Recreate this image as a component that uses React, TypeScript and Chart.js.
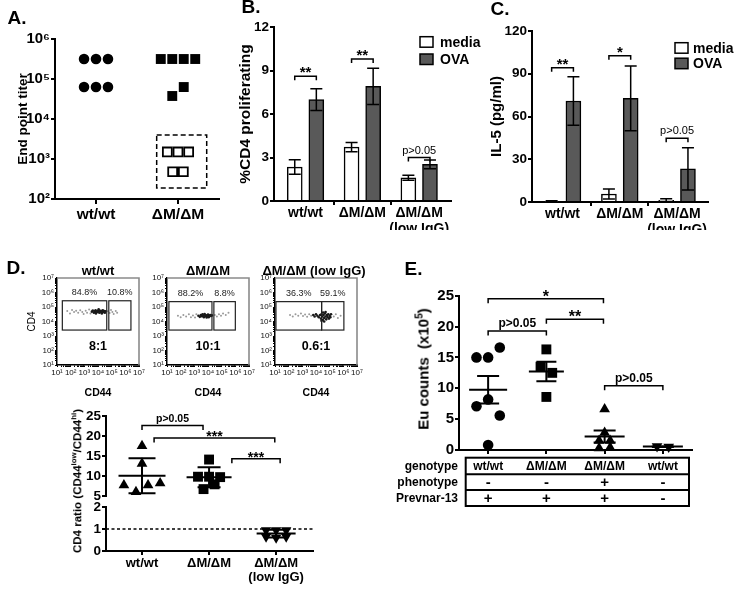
import React, { useEffect, useRef } from 'react';
import { Chart, registerables } from 'chart.js';

Chart.register(...registerables);

const FONT = '"Liberation Sans", Arial, Helvetica, sans-serif';
Chart.defaults.font.family = FONT;
Chart.defaults.color = '#000';

/* ===== A. End point titer ===== */
const titerGroups = ['wt/wt', 'ΔM/ΔM'];
const titerWt = [316000, 316000, 316000, 63000, 63000, 63000];
const titerMutHigh = [316000, 316000, 316000, 316000, 37600, 63000];
const titerMutLow = [1500, 1500, 1500, 480, 480];
const titerTicks = [1e2, 1e3, 1e4, 1e5, 1e6];
const titerLowBox = { x: [0.74, 1.35], y: [188, 3980] };

/* ===== B. %CD4 proliferating ===== */
const barGroups = [['wt/wt'], ['ΔM/ΔM'], ['ΔM/ΔM', '(low IgG)']];
const treatments = ['media', 'OVA'];
const prolifMedia = [2.34, 3.72, 1.6];
const prolifMediaErr = [0.5, 0.32, 0.17];
const prolifOva = [7.0, 7.9, 2.53];
const prolifOvaErr = [0.75, 1.25, 0.3];
const prolifTicks = [0, 3, 6, 9, 12];
const prolifSig = [
  { group: 0, y: 8.6, label: '**' },
  { group: 1, y: 9.8, label: '**' },
  { group: 2, y: 3.0, label: 'p>0.05' },
];

/* ===== C. IL-5 ===== */
const il5Media = [0.5, 5.6, 1.2];
const il5MediaErr = [0.3, 3.5, 1.0];
const il5Ova = [70.9, 72.7, 23.3];
const il5OvaErr = [17.0, 22.7, 14.8];
const il5Ticks = [0, 30, 60, 90, 120];
const il5Sig = [
  { group: 0, y: 94.2, label: '**' },
  { group: 1, y: 102.6, label: '*' },
  { group: 2, y: 44.8, label: 'p>0.05' },
];

/* ===== D. flow plots (events as [log10 CD44, log10 CD4]) ===== */
const flowTitles = ['wt/wt', 'ΔM/ΔM', 'ΔM/ΔM (low IgG)'];
const flowPct = [['84.8%', '10.8%'], ['88.2%', '8.8%'], ['36.3%', '59.1%']];
const flowRatio = ['8:1', '10:1', '0.6:1'];
const flowGates = [
  { low: [1.39, 4.64], high: [4.79, 6.41], cd4: [3.41, 5.43] },
  { low: [1.14, 4.29], high: [4.43, 6.0], cd4: [3.41, 5.37] },
  { low: [1.07, 4.41], high: [4.41, 6.04], cd4: [3.41, 5.37] },
];
const flowWtSparse = [[1.75, 4.72], [1.95, 4.55], [2.1, 4.8], [2.25, 4.65], [2.4, 4.75], [2.55, 4.6], [2.7, 4.78], [2.85, 4.66], [2.95, 4.52], [3.1, 4.74], [3.2, 4.6], [3.35, 4.82], [3.45, 4.55], [4.7, 4.7], [4.85, 4.58], [4.95, 4.8], [5.05, 4.65], [5.15, 4.52], [5.3, 4.72], [5.4, 4.6]];
const flowWtDense = [[3.55, 4.68], [3.62, 4.75], [3.7, 4.6], [3.76, 4.7], [3.82, 4.78], [3.88, 4.64], [3.94, 4.72], [4.0, 4.66], [4.05, 4.76], [4.1, 4.6], [4.15, 4.7], [4.2, 4.74], [4.25, 4.64], [4.3, 4.7], [4.35, 4.78], [4.4, 4.66], [4.45, 4.72], [4.5, 4.6], [4.55, 4.7], [3.85, 4.56], [4.05, 4.84], [4.28, 4.56]];
const flowMutSparse = [[1.8, 4.4], [2.0, 4.3], [2.2, 4.45], [2.4, 4.35], [2.6, 4.5], [2.75, 4.3], [2.9, 4.42], [3.05, 4.28], [3.15, 4.5], [4.5, 4.45], [4.65, 4.35], [4.8, 4.5], [4.95, 4.4], [5.1, 4.55], [5.3, 4.45], [5.5, 4.6]];
const flowMutDense = [[3.3, 4.4], [3.4, 4.32], [3.48, 4.45], [3.55, 4.36], [3.62, 4.42], [3.7, 4.3], [3.76, 4.46], [3.82, 4.38], [3.88, 4.42], [3.94, 4.34], [4.0, 4.48], [4.05, 4.4], [4.1, 4.36], [4.16, 4.44], [4.22, 4.38], [4.28, 4.42], [3.6, 4.5], [3.9, 4.28], [4.05, 4.3], [3.75, 4.52]];
const flowLowSparse = [[2.1, 4.45], [2.3, 4.35], [2.5, 4.5], [2.7, 4.4], [2.9, 4.55], [3.05, 4.38], [3.2, 4.48], [3.35, 4.32], [3.5, 4.5], [3.65, 4.4], [5.3, 4.35], [5.45, 4.5], [5.6, 4.25], [5.8, 4.4]];
const flowLowDense = [[3.8, 4.45], [3.9, 4.35], [4.0, 4.5], [4.1, 4.4], [4.2, 4.3], [4.3, 4.45], [4.36, 4.2], [4.4, 4.5], [4.45, 4.35], [4.5, 4.1], [4.55, 4.45], [4.6, 4.25], [4.65, 4.55], [4.7, 4.35], [4.75, 4.15], [4.8, 4.45], [4.85, 4.3], [4.9, 4.5], [4.95, 4.2], [5.0, 4.4], [5.05, 4.3], [5.1, 4.5], [4.4, 4.05], [4.6, 4.0], [4.52, 4.62], [4.7, 4.65]];

/* ===== D. CD4 ratio ===== */
const ratioGroups = [['wt/wt'], ['ΔM/ΔM'], ['ΔM/ΔM', '(low IgG)']];
const ratioWt = [17.5, 13.1, 7.7, 6.0, 7.7, 8.2];
const ratioMut = [14.1, 9.8, 9.8, 9.7, 6.7, 7.9];
const ratioMutLow = [0.95, 0.95, 0.95, 0.65, 0.6, 0.65];
const ratioUpperTicks = [5, 10, 15, 20, 25];
const ratioLowerTicks = [0, 1, 2];
const ratioRef = 1;
const ratioSig = [
  { x1: 0, x2: 0.91, y: 22.6, label: 'p>0.05' },
  { x1: 0.18, x2: 1.98, y: 19.5, label: '***' },
  { x1: 1.34, x2: 2.06, y: 14.3, label: '***' },
];

/* ===== E. Eu counts ===== */
const euGenotype = ['wt/wt', 'ΔM/ΔM', 'ΔM/ΔM', 'wt/wt'];
const euPhenotype = ['-', '-', '+', '-'];
const euPrevnar = ['+', '+', '+', '-'];
const euWt = [15.0, 15.0, 16.6, 7.1, 8.2, 5.6, 0.8];
const euMut = [16.3, 13.5, 12.5, 8.6];
const euMutPheno = [6.6, 2.8, 1.5, 1.5, 0.3, 0.4];
const euWtNoVax = [0.6, 0.5];
const euTicks = [0, 5, 10, 15, 20, 25];
const euSig = [
  { x1: 0, x2: 1.98, y: 24.5, label: '*' },
  { x1: 1, x2: 1.98, y: 21.2, label: '**' },
  { x1: 0, x2: 1, y: 19.3, label: 'p>0.05' },
  { x1: 2, x2: 3, y: 10.4, label: 'p>0.05' },
];

/* ===== helpers ===== */
const SUP = '⁰¹²³⁴⁵⁶⁷⁸⁹';
const pow10 = (v: number) => '10' + String(Math.round(Math.log10(v))).split('').map((d) => SUP[+d]).join('');
const font = (size: number, bold = true, lineHeight = 1.2) => ({ family: FONT, size, weight: bold ? 'bold' : 'normal', lineHeight });
const fixW = (w: number) => (s: any) => { s.width = w; };
const fixH = (h: number) => (s: any) => { s.height = h; };
const setTicks = (vals: number[]) => (s: any) => { s.ticks = vals.map((value) => ({ value })); };
const isDecade = (v: number) => Math.abs(Math.log10(v) - Math.round(Math.log10(v))) < 1e-9;
const OVA_FILL = '#595959';
const BAR_SHIFT = 0.19;

// rows of nearby values are spread symmetrically around the category centre
function swarm(values: number[], center: number, step: number, tol: number, log = false) {
  const t = (v: number) => (log ? Math.log10(v) : v);
  const pts: { x: number; y: number }[] = [];
  let i = 0;
  while (i < values.length) {
    let j = i + 1;
    while (j < values.length && Math.abs(t(values[j]) - t(values[i])) <= tol + 1e-9) j++;
    const n = j - i;
    for (let k = 0; k < n; k++) pts.push({ x: center + (k - (n - 1) / 2) * step, y: values[i + k] });
    i = j;
  }
  return pts;
}

function stats(values: number[], kind: string) {
  const n = values.length;
  const mean = values.reduce((a, b) => a + b, 0) / n;
  const sd = Math.sqrt(values.reduce((a, b) => a + (b - mean) ** 2, 0) / (n - 1));
  return { mean, err: kind === 'sem' ? sd / Math.sqrt(n) : sd };
}

function deco(o: any) {
  return {
    id: 'deco',
    afterDraw(chart: any) {
      const { ctx, chartArea: ca } = chart;
      const xs = chart.scales.x;
      const ys = chart.scales.y;
      const X = (v: number) => xs.getPixelForValue(v);
      const Y = (v: number) => ys.getPixelForValue(v);
      ctx.save();
      ctx.strokeStyle = '#000';
      ctx.fillStyle = '#000';
      ctx.lineCap = 'butt';
      if (o.frame) {
        ctx.strokeStyle = o.frame;
        ctx.lineWidth = 1.6;
        ctx.beginPath();
        ctx.moveTo(ca.left, ca.top);
        ctx.lineTo(ca.right, ca.top);
        ctx.lineTo(ca.right, ca.bottom);
        ctx.stroke();
        ctx.strokeStyle = '#000';
      }
      if (o.refLine !== undefined) {
        ctx.save();
        ctx.setLineDash([3, 2.5]);
        ctx.lineWidth = 1.5;
        const y = Y(o.refLine);
        ctx.beginPath();
        ctx.moveTo(ca.left, y);
        ctx.lineTo(ca.right, y);
        ctx.stroke();
        ctx.restore();
      }
      if (o.box) {
        ctx.save();
        ctx.setLineDash([5, 3]);
        ctx.lineWidth = 1.5;
        const x0 = X(o.box.x[0]), x1 = X(o.box.x[1]);
        const y0 = Y(o.box.y[1]), y1 = Y(o.box.y[0]);
        ctx.strokeRect(x0, y0, x1 - x0, y1 - y0);
        ctx.restore();
      }
      if (o.errors) {
        o.errors.forEach((errs: number[] | null, di: number) => {
          if (!errs) return;
          chart.data.datasets[di].data.forEach((p: any, j: number) => {
            const x = X(p.x);
            const yt = Y(p.y + errs[j]);
            const yb = Y(Math.max(p.y - errs[j], 0));
            ctx.lineWidth = 1.5;
            ctx.beginPath();
            ctx.moveTo(x, yt); ctx.lineTo(x, yb);
            ctx.moveTo(x - 6, yt); ctx.lineTo(x + 6, yt);
            ctx.moveTo(x - 6, yb); ctx.lineTo(x + 6, yb);
            ctx.stroke();
          });
        });
      }
      if (o.summaries) {
        o.summaries.forEach((s: any) => {
          const { mean, err } = stats(s.values, s.kind);
          const cx = X(s.center);
          const ym = Y(mean), yt = Y(mean + err), yb = Y(mean - err);
          ctx.lineWidth = 2;
          ctx.beginPath();
          ctx.moveTo(cx - s.half, ym); ctx.lineTo(cx + s.half, ym);
          ctx.moveTo(cx, yt); ctx.lineTo(cx, yb);
          ctx.moveTo(cx - s.cap, yt); ctx.lineTo(cx + s.cap, yt);
          ctx.moveTo(cx - s.cap, yb); ctx.lineTo(cx + s.cap, yb);
          ctx.stroke();
        });
      }
      if (o.brackets) {
        const st = o.bracketStyle;
        o.brackets.forEach((b: any) => {
          const x1 = X(b.x1), x2 = X(b.x2), y = Y(b.y);
          ctx.lineWidth = st.lw;
          ctx.beginPath();
          ctx.moveTo(x1, y + st.drop); ctx.lineTo(x1, y); ctx.lineTo(x2, y); ctx.lineTo(x2, y + st.drop);
          ctx.stroke();
          const star = b.label.startsWith('*');
          ctx.font = star ? st.starFont : st.pFont;
          ctx.textAlign = 'center';
          ctx.textBaseline = 'alphabetic';
          ctx.fillText(b.label, (x1 + x2) / 2, y + (star ? st.starDy : st.pDy));
        });
      }
      if (o.legend) {
        const L = o.legend;
        chart.data.datasets.forEach((ds: any, i: number) => {
          const bx = ca.right + L.dx, by = ca.top + L.dy + i * L.gap;
          ctx.fillStyle = ds.backgroundColor;
          ctx.fillRect(bx, by, 13, 10.5);
          ctx.lineWidth = 1.5;
          ctx.strokeStyle = '#000';
          ctx.strokeRect(bx, by, 13, 10.5);
          ctx.fillStyle = '#000';
          ctx.font = 'bold 14px ' + FONT;
          ctx.textAlign = 'left';
          ctx.textBaseline = 'middle';
          ctx.fillText(ds.label, bx + L.textDx, by + 6);
        });
      }
      if (o.gates) {
        const g = o.gates;
        const yT = Y(10 ** g.cd4[1]), yB = Y(10 ** g.cd4[0]);
        ctx.strokeStyle = '#222';
        ctx.lineWidth = 1.2;
        [g.low, g.high].forEach((r: number[], i: number) => {
          const xL = X(10 ** r[0]), xR = X(10 ** r[1]);
          ctx.strokeRect(xL, yT, xR - xL, yB - yT);
          ctx.font = '9px ' + FONT;
          ctx.fillStyle = '#222';
          ctx.textAlign = 'center';
          ctx.textBaseline = 'middle';
          ctx.fillText(g.pct[i], (xL + xR) / 2, yT - 8);
        });
        ctx.fillStyle = '#000';
        ctx.font = 'bold 12.5px ' + FONT;
        ctx.fillText(g.ratio, (ca.left + ca.right) / 2, yB + 16);
      }
      if (o.table) {
        const T = o.table;
        const left = ca.left + 6.7, right = ca.right - 3;
        let y = ca.bottom + 7.7;
        const total = T.rowH.reduce((a: number, b: number) => a + b, 0);
        ctx.lineWidth = 2;
        ctx.strokeStyle = '#000';
        ctx.strokeRect(left, y, right - left, total);
        T.rows.forEach((r: any, i: number) => {
          if (i > 0) {
            ctx.beginPath(); ctx.moveTo(left, y); ctx.lineTo(right, y); ctx.stroke();
          }
          const yc = y + T.rowH[i] / 2 + 0.5;
          ctx.textBaseline = 'middle';
          ctx.font = 'bold 12px ' + FONT;
          ctx.textAlign = 'right';
          ctx.fillText(r.label, ca.left - 1, yc);
          ctx.textAlign = 'center';
          r.cells.forEach((c: string, j: number) => {
            ctx.font = (c.length === 1 ? 'bold 15px ' : 'bold 12px ') + FONT;
            ctx.fillText(c, X(j), yc);
          });
          y += T.rowH[i];
        });
      }
      ctx.restore();
    },
  };
}

const baseOpts = (pad: any) => ({
  responsive: false,
  animation: false,
  events: [],
  layout: { padding: pad },
  plugins: { legend: { display: false }, tooltip: { enabled: false } },
});

const axisLine = { color: '#000', width: 2 };
const tickGrid = (len: number, color: any = '#000') => ({ drawOnChartArea: false, color, lineWidth: 2, tickLength: len, offset: false });

/* ===== chart factories ===== */
function configA() {
  return {
    type: 'scatter',
    data: {
      datasets: [
        { data: swarm(titerWt, 0, 0.146, 0.3, true), pointStyle: 'circle', pointRadius: 5.3, backgroundColor: '#000', borderWidth: 0, clip: false },
        { data: swarm(titerMutHigh, 1, 0.14, 0.3, true), pointStyle: 'rect', pointRadius: 7, backgroundColor: '#000', borderWidth: 0, clip: false },
        { data: swarm(titerMutLow, 1, 0.13, 0.3, true), pointStyle: 'rect', pointRadius: 6.3, backgroundColor: '#fff', borderColor: '#000', borderWidth: 1.8, clip: false },
      ],
    },
    options: {
      ...baseOpts({ left: 0, top: 14, right: 16, bottom: 0 }),
      scales: {
        x: {
          type: 'linear', min: -0.5, max: 1.5, offset: false,
          afterBuildTicks: setTicks([0, 1]), afterFit: fixH(31),
          ticks: { callback: (v: number) => titerGroups[v], font: font(15.5), color: '#000', padding: 1, maxRotation: 0, autoSkip: false },
          grid: tickGrid(5), border: axisLine,
        },
        y: {
          type: 'logarithmic', min: 100, max: 1e6,
          afterBuildTicks: setTicks(titerTicks), afterFit: fixW(55),
          ticks: { callback: (v: number) => pow10(v), font: font(15), color: '#000', padding: 1, autoSkip: false },
          grid: tickGrid(4), border: axisLine,
          title: { display: true, text: 'End point titer', font: font(13.5), color: '#000', padding: { top: 15, bottom: 0 } },
        },
      },
    },
    plugins: [deco({ box: titerLowBox })],
  };
}

function barConfig(p: any) {
  const halfTick = (c: any) => (c.tick && Number.isInteger(c.tick.value) ? 'rgba(0,0,0,0)' : '#000');
  return {
    type: 'bar',
    data: {
      datasets: [
        { label: treatments[0], data: p.media.map((v: number, i: number) => ({ x: i - BAR_SHIFT, y: v })), backgroundColor: '#fff', borderColor: '#000', borderWidth: 1.5, barThickness: 15, grouped: false },
        { label: treatments[1], data: p.ova.map((v: number, i: number) => ({ x: i + BAR_SHIFT, y: v })), backgroundColor: OVA_FILL, borderColor: '#000', borderWidth: 1.5, barThickness: 15, grouped: false },
      ],
    },
    options: {
      ...baseOpts(p.pad),
      scales: {
        x: {
          type: 'linear', min: p.xMin, max: p.xMax, offset: false,
          afterBuildTicks: setTicks([0, 0.5, 1, 1.5, 2]), afterFit: fixH(p.xH),
          ticks: { callback: (v: number) => (Number.isInteger(v) ? barGroups[v] : ''), font: font(14, true, 1.15), color: '#000', padding: 0, maxRotation: 0, autoSkip: false },
          grid: tickGrid(4, halfTick), border: axisLine,
        },
        y: {
          type: 'linear', min: 0, max: p.yMax,
          afterBuildTicks: setTicks(p.yTicks), afterFit: fixW(p.yW),
          ticks: { font: font(13.5), color: '#000', padding: 1 },
          grid: tickGrid(4), border: axisLine,
          title: { display: true, text: p.title, font: font(p.titleSize), color: '#000', padding: { top: p.titlePad, bottom: 0 } },
        },
      },
    },
    plugins: [deco({
      errors: [p.mediaErr, p.ovaErr],
      brackets: p.sig.map((s: any) => ({ x1: s.group - BAR_SHIFT, x2: s.group + BAR_SHIFT, y: s.y, label: s.label })),
      bracketStyle: { drop: 4, lw: 1.5, pFont: '11px ' + FONT, starFont: 'bold 15px ' + FONT, starDy: 1, pDy: -4 },
      legend: p.legend,
    })],
  };
}

const flowTickVals: number[] = [];
for (let e = 1; e <= 6; e++) for (let m = 1; m <= 9; m++) flowTickVals.push(m * 10 ** e);
flowTickVals.push(1e7);

function flowConfig(idx: number, sparse: number[][], dense: number[][]) {
  const g = flowGates[idx];
  return {
    type: 'scatter',
    data: {
      datasets: [
        { data: sparse.map(([a, b]) => ({ x: 10 ** a, y: 10 ** b })), pointRadius: 1, backgroundColor: '#9a9a9a', borderWidth: 0 },
        { data: dense.map(([a, b]) => ({ x: 10 ** a, y: 10 ** b })), pointRadius: 1.3, backgroundColor: '#1a1a1a', borderWidth: 0 },
      ],
    },
    options: {
      ...baseOpts({ left: 0, top: 20, right: 8, bottom: 0 }),
      scales: {
        x: {
          type: 'logarithmic', min: 10, max: 1e7,
          afterBuildTicks: setTicks(flowTickVals), afterFit: fixH(35),
          ticks: { callback: (v: number) => (isDecade(v) ? pow10(v) : ''), font: font(8, false), color: '#111', padding: 1, maxRotation: 0, autoSkip: false },
          grid: { drawOnChartArea: false, color: '#000', lineWidth: 1, tickLength: 2 },
          border: { color: '#000', width: 1.5 },
          title: { display: true, text: 'CD44', font: font(10.5), color: '#000', padding: { top: 0, bottom: 1 } },
        },
        y: {
          type: 'logarithmic', min: 10, max: 1e7,
          afterBuildTicks: setTicks(flowTickVals), afterFit: fixW(40),
          ticks: { callback: (v: number) => (isDecade(v) ? pow10(v) : ''), font: font(8, false), color: '#111', padding: 1, autoSkip: false },
          grid: { drawOnChartArea: false, color: '#000', lineWidth: 1, tickLength: 2 },
          border: { color: '#000', width: 1.5 },
          title: { display: idx === 0, text: 'CD4', font: font(10, false), color: '#000', padding: { top: 9, bottom: 0 } },
        },
      },
    },
    plugins: [deco({ frame: '#8a8a8a', gates: { ...g, pct: flowPct[idx], ratio: flowRatio[idx] } })],
  };
}

const ratioX = { type: 'linear', min: -0.537, max: 2.55, offset: false };
const bracketStyleD = { drop: 4.5, lw: 1.5, pFont: 'bold 10.5px ' + FONT, starFont: 'bold 14px ' + FONT, starDy: 3, pDy: -4 };

function ratioUpperConfig() {
  return {
    type: 'scatter',
    data: {
      datasets: [
        { data: swarm(ratioWt, 0, 0.18, 2.0), pointStyle: 'triangle', pointRadius: 6.2, backgroundColor: '#000', borderWidth: 0, clip: false },
        { data: swarm(ratioMut, 1, 0.165, 1.5), pointStyle: 'rect', pointRadius: 7, backgroundColor: '#000', borderWidth: 0, clip: false },
      ],
    },
    options: {
      ...baseOpts({ left: 0, top: 21, right: 27, bottom: 8 }),
      scales: {
        x: { ...ratioX, display: false },
        y: {
          type: 'linear', min: 5, max: 25,
          afterBuildTicks: setTicks(ratioUpperTicks), afterFit: fixW(66),
          ticks: { font: font(13.5), color: '#000', padding: 1 },
          grid: tickGrid(4), border: axisLine,
        },
      },
    },
    plugins: [deco({
      brackets: ratioSig, bracketStyle: bracketStyleD,
      summaries: [
        { center: 0, values: ratioWt, kind: 'sd', half: 23.5, cap: 13.5 },
        { center: 1, values: ratioMut, kind: 'sd', half: 22.5, cap: 11.5 },
      ],
    })],
  };
}

function ratioLowerConfig() {
  return {
    type: 'scatter',
    data: {
      datasets: [
        { data: swarm(ratioMutLow, 2, 0.15, 0.15), pointStyle: 'triangle', rotation: 180, pointRadius: 6, backgroundColor: '#000', borderWidth: 0, clip: false },
      ],
    },
    options: {
      ...baseOpts({ left: 0, top: 8, right: 27, bottom: 0 }),
      scales: {
        x: {
          ...ratioX,
          afterBuildTicks: setTicks([0, 1, 2]), afterFit: fixH(38),
          ticks: { callback: (v: number) => ratioGroups[v], font: font(13, true, 1.1), color: '#000', padding: 1, maxRotation: 0, autoSkip: false },
          grid: tickGrid(4), border: axisLine,
        },
        y: {
          type: 'linear', min: 0, max: 2,
          afterBuildTicks: setTicks(ratioLowerTicks), afterFit: fixW(66),
          ticks: { font: font(13.5), color: '#000', padding: 1 },
          grid: tickGrid(4), border: axisLine,
        },
      },
    },
    plugins: [deco({
      refLine: ratioRef,
      summaries: [{ center: 2, values: ratioMutLow, kind: 'sd', half: 19.5, cap: 11 }],
    })],
  };
}

function euConfig() {
  return {
    type: 'scatter',
    data: {
      datasets: [
        { data: swarm(euWt, 0, 0.2, 1.7), pointStyle: 'circle', pointRadius: 5.3, backgroundColor: '#000', borderWidth: 0, clip: false },
        { data: swarm(euMut, 1, 0.2, 1.7), pointStyle: 'rect', pointRadius: 7, backgroundColor: '#000', borderWidth: 0, clip: false },
        { data: swarm(euMutPheno, 2, 0.19, 1.0), pointStyle: 'triangle', pointRadius: 6.2, backgroundColor: '#000', borderWidth: 0, clip: false },
        { data: swarm(euWtNoVax, 3, 0.2, 0.3), pointStyle: 'triangle', rotation: 180, pointRadius: 6.2, backgroundColor: '#000', borderWidth: 0, clip: false },
      ],
    },
    options: {
      ...baseOpts({ left: 0, top: 45.7, right: 51, bottom: 0 }),
      scales: {
        x: {
          type: 'linear', min: -0.5, max: 3.5, offset: false,
          afterBuildTicks: setTicks([0, 1, 2, 3]), afterFit: fixH(60),
          ticks: { callback: () => '', autoSkip: false, maxRotation: 0 },
          grid: tickGrid(4), border: axisLine,
        },
        y: {
          type: 'linear', min: 0, max: 25,
          afterBuildTicks: setTicks(euTicks), afterFit: fixW(79),
          ticks: { font: font(15), color: '#000', padding: 1 },
          grid: tickGrid(4), border: axisLine,
        },
      },
    },
    plugins: [deco({
      brackets: euSig,
      bracketStyle: { drop: 4.5, lw: 1.5, pFont: 'bold 12px ' + FONT, starFont: 'bold 16px ' + FONT, starDy: 3, pDy: -4 },
      summaries: [
        { center: 0, values: euWt, kind: 'sem', half: 19, cap: 11 },
        { center: 1, values: euMut, kind: 'sem', half: 17.5, cap: 10 },
        { center: 2, values: euMutPheno, kind: 'sem', half: 20, cap: 11 },
        { center: 3, values: euWtNoVax, kind: 'sem', half: 20, cap: 11 },
      ],
      table: {
        rowH: [16.6, 15.7, 16],
        rows: [
          { label: 'genotype', cells: euGenotype },
          { label: 'phenotype', cells: euPhenotype },
          { label: 'Prevnar-13', cells: euPrevnar },
        ],
      },
    })],
  };
}

/* ===== React ===== */
function ChartCanvas({ x, y, w, h, make }: { x: number; y: number; w: number; h: number; make: () => any }) {
  const ref = useRef<HTMLCanvasElement | null>(null);
  useEffect(() => {
    if (!ref.current) return;
    const chart = new Chart(ref.current, make());
    return () => chart.destroy();
  }, []);
  return <canvas ref={ref} width={w} height={h} style={{ position: 'absolute', left: x, top: y, width: w, height: h }} />;
}

function Txt({ x, y, size, bold = true, rotate = false, children }: any) {
  return (
    <div
      style={{
        position: 'absolute', left: x, top: y,
        transform: `translate(-50%, -50%)${rotate ? ' rotate(-90deg)' : ''}`,
        font: `${bold ? 'bold' : 'normal'} ${size}px/1 ${FONT}`,
        whiteSpace: 'nowrap', color: '#000',
      }}
    >
      {children}
    </div>
  );
}

const supStyle: any = { fontSize: '0.68em', verticalAlign: 'super', lineHeight: 0 };
const flowLefts = [57, 167, 275];
const flowEvents = [[flowWtSparse, flowWtDense], [flowMutSparse, flowMutDense], [flowLowSparse, flowLowDense]];

export default function App() {
  return (
    <div style={{ position: 'absolute', left: 0, top: 0, width: 743, height: 589, background: '#fff', overflow: 'hidden', fontFamily: FONT }}>
      <ChartCanvas x={0} y={25} w={235} h={205} make={configA} />
      <ChartCanvas x={235} y={15} w={250} h={215} make={() => barConfig({
        media: prolifMedia, mediaErr: prolifMediaErr, ova: prolifOva, ovaErr: prolifOvaErr, sig: prolifSig,
        yMax: 12, yTicks: prolifTicks, xMin: -0.555, xMax: 2.56, xH: 29, yW: 39,
        pad: { left: 0, top: 12, right: 34, bottom: 0 },
        title: '%CD4 proliferating', titleSize: 15.5, titlePad: 1.5,
        legend: { dx: -31, dy: 9.7, gap: 17.3, textDx: 20 },
      })} />
      <ChartCanvas x={485} y={15} w={258} h={215} make={() => barConfig({
        media: il5Media, mediaErr: il5MediaErr, ova: il5Ova, ovaErr: il5OvaErr, sig: il5Sig,
        yMax: 120, yTicks: il5Ticks, xMin: -0.533, xMax: 2.54, xH: 28, yW: 47,
        pad: { left: 0, top: 16, right: 35, bottom: 0 },
        title: 'IL-5 (pg/ml)', titleSize: 15, titlePad: 3,
        legend: { dx: -33, dy: 11.7, gap: 15.5, textDx: 18 },
      })} />
      {flowLefts.map((l, i) => (
        <ChartCanvas key={i} x={l - 40} y={258} w={130} h={142} make={() => flowConfig(i, flowEvents[i][0], flowEvents[i][1])} />
      ))}
      <ChartCanvas x={40} y={395} w={300} h={110} make={ratioUpperConfig} />
      <ChartCanvas x={40} y={498} w={300} h={91} make={ratioLowerConfig} />
      <ChartCanvas x={380} y={250} w={363} h={260} make={euConfig} />

      <Txt x={17} y={16.7} size={19}>A.</Txt>
      <Txt x={251} y={6} size={19}>B.</Txt>
      <Txt x={500} y={8.3} size={19}>C.</Txt>
      <Txt x={16} y={266.7} size={19}>D.</Txt>
      <Txt x={413.5} y={268.3} size={19}>E.</Txt>

      <Txt x={98} y={270} size={13}>{flowTitles[0]}</Txt>
      <Txt x={208} y={270} size={13}>{flowTitles[1]}</Txt>
      <Txt x={314} y={270} size={13}>{flowTitles[2]}</Txt>

      <Txt x={78} y={481} size={11.5} rotate>
        CD4 ratio (CD44<sup style={supStyle}>low</sup>/CD44<sup style={supStyle}>hi</sup>)
      </Txt>
      <Txt x={423} y={369} size={15} rotate>
        Eu counts{'\u00a0 '}(x10<sup style={supStyle}>5</sup>)
      </Txt>
    </div>
  );
}
